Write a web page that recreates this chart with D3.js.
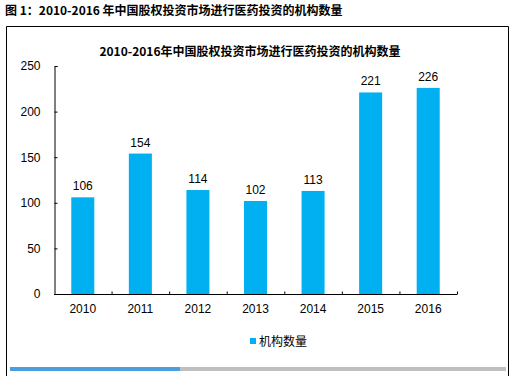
<!DOCTYPE html>
<html>
<head>
<meta charset="utf-8">
<script src="https://cdn.jsdelivr.net/npm/d3@7"></script>
<style>
  body { margin: 0; background: #fff; }
  svg { display: block; font-family: "Liberation Sans", Arial, sans-serif; }
</style>
</head>
<body>
<script>
const years = ['2010', '2011', '2012', '2013', '2014', '2015', '2016'];
const counts = [106, 154, 114, 102, 113, 221, 226];
const yTicks = [0, 50, 100, 150, 200, 250];
const figTitle = '图 1：2010-2016 年中国股权投资市场进行医药投资的机构数量';
const chartTitle = '2010-2016年中国股权投资市场进行医药投资的机构数量';
const seriesName = '机构数量';

const width = 516;
const height = 376;
const cjk = '"Noto Sans CJK SC", "Liberation Sans", sans-serif';

const svg = d3.select('body').append('svg').attr('width', width).attr('height', height);

// figure caption above the frame
svg.append('text')
  .attr('x', 5).attr('y', 15)
  .attr('font-size', 12).attr('font-weight', 'bold')
  .attr('font-family', cjk)
  .text(figTitle);

// frame (open at the bottom)
svg.append('path')
  .attr('d', `M6.5,${height} V26.5 H508.5 V${height}`)
  .attr('fill', 'none').attr('stroke', '#000');

svg.append('text')
  .attr('x', 250).attr('y', 56)
  .attr('text-anchor', 'middle')
  .attr('font-size', 12).attr('font-weight', 'bold')
  .attr('font-family', cjk)
  .text(chartTitle);

const x = d3.scaleBand().domain(years).range([54, 457]).paddingInner(0.6).paddingOuter(0.3);
const y = d3.scaleLinear().domain([0, 250]).range([294, 66]);

// y axis
const yAxis = svg.append('g')
  .attr('transform', 'translate(54.5,0)')
  .call(d3.axisRight(y).tickValues(yTicks).tickSize(3).tickFormat(d => d));
yAxis.selectAll('text')
  .attr('x', -14).attr('text-anchor', 'end')
  .attr('font-size', 12).attr('fill', '#000')
  .attr('font-family', '"Liberation Sans", Arial, sans-serif');
yAxis.select('.domain').attr('stroke', '#000');
yAxis.selectAll('.tick line').attr('stroke', '#000');

// x axis with ticks between categories
const xAxis = svg.append('g').attr('transform', 'translate(0,294.5)');
xAxis.append('line').attr('x1', 54).attr('x2', 457).attr('stroke', '#000');
const step = x.step();
xAxis.selectAll('.sep')
  .data(d3.range(1, years.length + 1))
  .enter().append('line')
  .attr('x1', i => 54.5 + i * (403 / years.length))
  .attr('x2', i => 54.5 + i * (403 / years.length))
  .attr('y1', 0).attr('y2', -3)
  .attr('stroke', '#000');
xAxis.selectAll('.lbl')
  .data(years)
  .enter().append('text')
  .attr('x', d => x(d) + x.bandwidth() / 2)
  .attr('y', 18)
  .attr('text-anchor', 'middle')
  .attr('font-size', 12)
  .text(d => d);

// bars
svg.selectAll('.bar')
  .data(counts)
  .enter().append('rect')
  .attr('x', (d, i) => x(years[i]))
  .attr('y', d => y(d))
  .attr('width', x.bandwidth())
  .attr('height', d => y(0) - y(d))
  .attr('fill', '#00b0f0');

svg.selectAll('.val')
  .data(counts)
  .enter().append('text')
  .attr('x', (d, i) => x(years[i]) + x.bandwidth() / 2)
  .attr('y', d => y(d) - 7)
  .attr('text-anchor', 'middle')
  .attr('font-size', 12)
  .text(d => d);

// legend
svg.append('rect').attr('x', 250).attr('y', 338).attr('width', 6).attr('height', 6).attr('fill', '#00b0f0');
svg.append('text')
  .attr('x', 259).attr('y', 346)
  .attr('font-size', 12)
  .attr('font-family', cjk)
  .text(seriesName);

// bottom strip
svg.append('rect').attr('x', 10).attr('y', 367).attr('width', 170).attr('height', 4).attr('fill', '#4a9fdc');
svg.append('rect').attr('x', 180).attr('y', 367).attr('width', 326).attr('height', 4).attr('fill', '#bfbfbf');
</script>
</body>
</html>
